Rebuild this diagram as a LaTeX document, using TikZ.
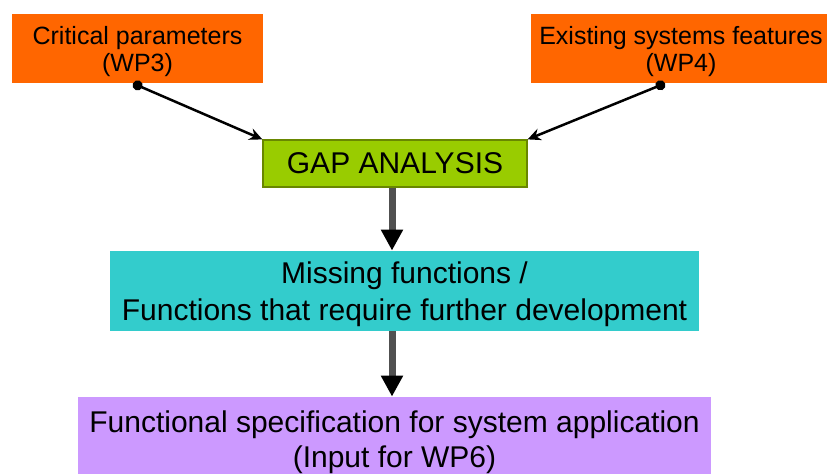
\documentclass[tikz,border=0pt]{standalone}
\usepackage{fontspec}
\setmainfont{Liberation Sans}
\usetikzlibrary{arrows.meta}

\definecolor{arancio}{RGB}{255,102,0}
\definecolor{verde}{RGB}{153,204,0}
\definecolor{bordoverde}{RGB}{105,135,0}
\definecolor{ciano}{RGB}{51,204,204}
\definecolor{lilla}{RGB}{204,153,255}
\definecolor{asta}{RGB}{80,80,80}

\begin{document}
\begin{tikzpicture}[x=0.5pt, y=-0.5pt,
  box/.style={inner sep=0pt, align=center, text=black, text depth=0pt},
  piccolo/.style={font=\fontsize{12.5}{13.5}\selectfont},
  grande/.style={font=\fontsize{15}{18.5}\selectfont},
  freccia/.style={line width=1.25pt, {Circle[length=5pt]}-{Stealth[length=6.5pt,width=6pt]}},
  discesa/.style={line width=3.5pt, draw=asta, -{Triangle[length=10.5pt,width=10.5pt,color=black]}}]

% Area del disegno
\useasboundingbox (0,0) rectangle (827,474);

% Riquadri di ingresso (arancio)
\node[box, piccolo, fill=arancio, minimum width=125.5pt, minimum height=34.5pt] (wp3) at (137.5,48.5) {Critical parameters\\(WP3)};
\node[box, piccolo, fill=arancio, minimum width=150pt, minimum height=34.5pt] (wp4) at (681,48.5) {Existing systems features\\(WP4)};

% Analisi
\node[box, grande, fill=verde, draw=bordoverde, line width=0.6pt, minimum width=132pt, minimum height=23.5pt] (gap) at (395,163.5) {GAP ANALYSIS};

% Funzioni mancanti
\node[box, grande, fill=ciano, minimum width=294.5pt, minimum height=40pt] (missing) at (404.5,291) {Missing functions /\\Functions that require further development};

% Specifica funzionale
\node[box, grande, fill=lilla, minimum width=316.5pt, minimum height=42pt, font=\fontsize{15}{17.5}\selectfont] (spec) at (394.5,439) {Functional specification for system application\\(Input for WP6)};

% Frecce oblique con pallino
\draw[freccia] ([xshift=-2.25pt]wp3.south) -- (gap.north west);
\draw[freccia] ([xshift=-8pt]wp4.south) -- (gap.north east);

% Frecce verticali
\coordinate (asse) at (392,0);
\draw[discesa] (gap.south -| asse) -- (missing.north -| asse);
\draw[discesa] (missing.south -| asse) -- (spec.north -| asse);

\end{tikzpicture}
\end{document}
